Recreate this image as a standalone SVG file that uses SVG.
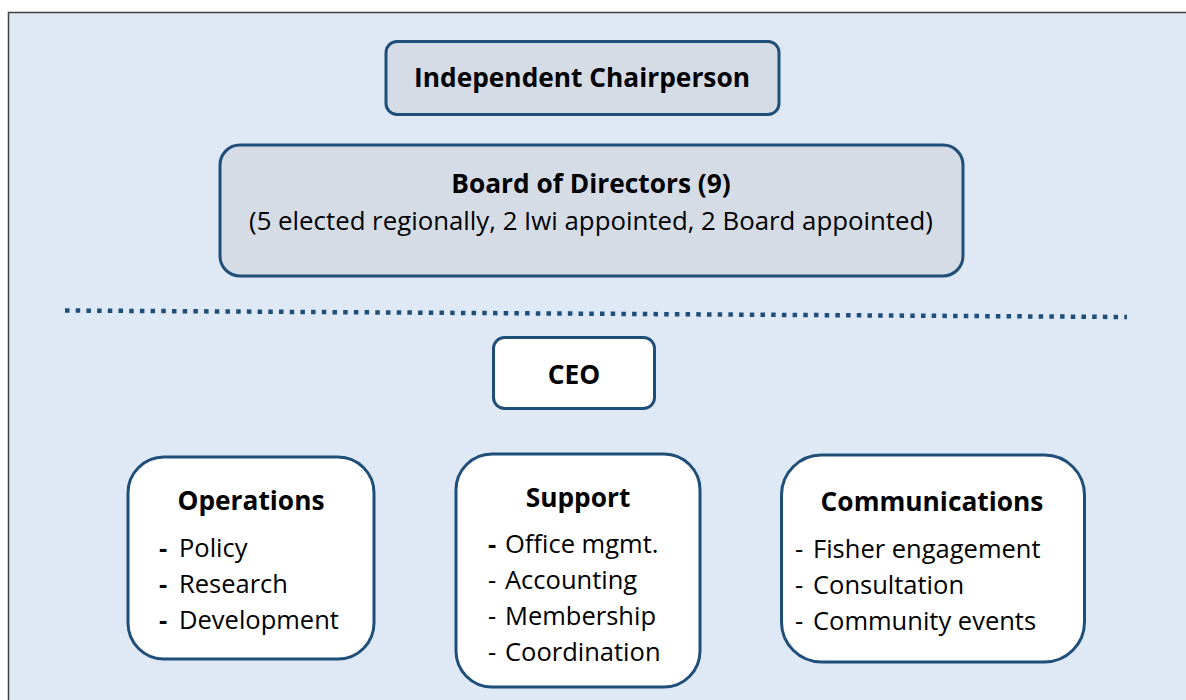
<svg xmlns="http://www.w3.org/2000/svg" width="1186" height="700" viewBox="0 0 1186 700">
  <style>
    .frame { fill: #dee9f5; stroke: #404040; stroke-width: 1.5; }
    .box { stroke: #1f4e79; stroke-width: 3; }
    .grey { fill: #d5dce6; }
    .white { fill: #ffffff; }
    text { font-family: "Open Sans", Lato, sans-serif; fill: #000000; }
    .title { font-size: 26.3px; font-weight: 700; text-anchor: middle; }
    .sub { font-size: 25.8px; text-anchor: middle; }
    .item { font-size: 25.5px; }
    .dash { font-size: 25.5px; }
    .bold { font-weight: 700; }
    .divider { stroke: #1f4e79; stroke-width: 4.5; stroke-dasharray: 4.5 6.2; fill: none; }
  </style>

  <!-- background panel -->
  <rect class="frame" x="8.5" y="12.5" width="1200" height="720"/>

  <g id="connectors">
    <!-- governance / management divider -->
    <line class="divider" x1="65" y1="310.5" x2="1127" y2="317"/>
  </g>

  <g id="chairperson">
    <rect class="box grey" x="386" y="41.5" width="393" height="73" rx="11"/>
    <text class="title" x="582" y="87">Independent Chairperson</text>
  </g>

  <g id="board">
    <rect class="box grey" x="220" y="145" width="743" height="131" rx="20"/>
    <text class="title" x="591" y="193">Board of Directors (9)</text>
    <text class="sub" x="591" y="230">(5 elected regionally, 2 Iwi appointed, 2 Board appointed)</text>
  </g>

  <g id="ceo">
    <rect class="box white" x="493.5" y="337.5" width="161" height="71" rx="11"/>
    <text class="title" x="574" y="384">CEO</text>
  </g>

  <g id="operations">
    <rect class="box white" x="128" y="457" width="246" height="202" rx="36"/>
    <text class="title" x="251" y="510">Operations</text>
    <text class="dash bold" x="159" y="557">-</text>
    <text class="item" x="179" y="557">Policy</text>
    <text class="dash bold" x="159" y="593">-</text>
    <text class="item" x="179" y="593">Research</text>
    <text class="dash bold" x="159" y="629">-</text>
    <text class="item" x="179" y="629">Development</text>
  </g>

  <g id="support">
    <rect class="box white" x="456" y="454" width="244" height="233" rx="36"/>
    <text class="title" x="578" y="507">Support</text>
    <text class="dash bold" x="488" y="553">-</text>
    <text class="item" x="505" y="553">Office mgmt.</text>
    <text class="dash" x="488" y="589">-</text>
    <text class="item" x="505" y="589">Accounting</text>
    <text class="dash" x="488" y="625">-</text>
    <text class="item" x="505" y="625">Membership</text>
    <text class="dash" x="488" y="661">-</text>
    <text class="item" x="505" y="661">Coordination</text>
  </g>

  <g id="communications">
    <rect class="box white" x="781.5" y="455" width="303" height="207" rx="40"/>
    <text class="title" x="932" y="511">Communications</text>
    <text class="dash" x="795" y="558">-</text>
    <text class="item" x="813" y="558">Fisher engagement</text>
    <text class="dash" x="795" y="594">-</text>
    <text class="item" x="813" y="594">Consultation</text>
    <text class="dash" x="795" y="630">-</text>
    <text class="item" x="813" y="630">Community events</text>
  </g>
</svg>
